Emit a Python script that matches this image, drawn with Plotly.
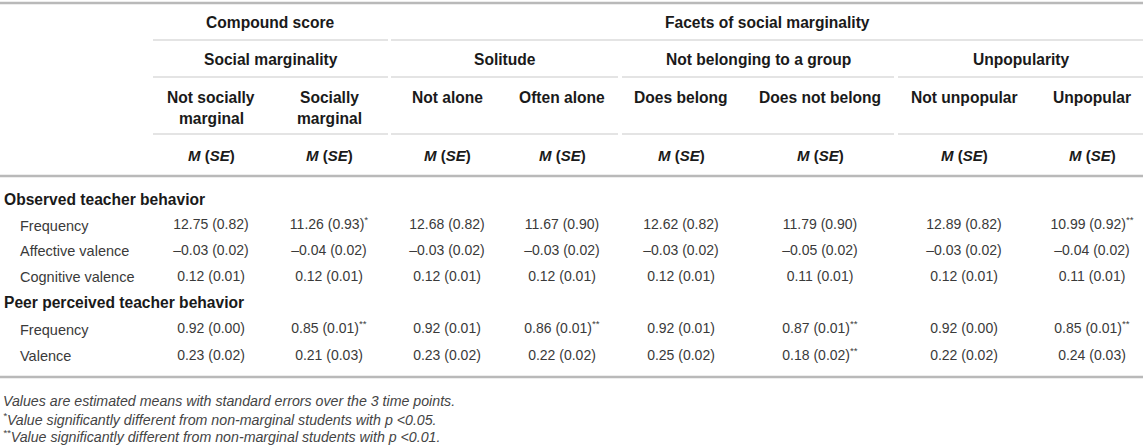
import plotly.graph_objects as go

# table content
GROUPS = ["Compound score", "Facets of social marginality"]
FACETS = ["Social marginality", "Solitude", "Not belonging to a group", "Unpopularity"]
COLUMNS = ["Not socially<br>marginal", "Socially<br>marginal", "Not alone", "Often alone",
           "Does belong", "Does not belong", "Not unpopular", "Unpopular"]
SECTIONS = ["Observed teacher behavior", "Peer perceived teacher behavior"]
ROW_LABELS = ["Frequency", "Affective valence", "Cognitive valence", "Frequency", "Valence"]

obs_freq_m = [12.75, 11.26, 12.68, 11.67, 12.62, 11.79, 12.89, 10.99]
obs_freq_se = [0.82, 0.93, 0.82, 0.90, 0.82, 0.90, 0.82, 0.92]
obs_freq_sig = ["", "*", "", "", "", "", "", "**"]

obs_aff_m = [-0.03, -0.04, -0.03, -0.03, -0.03, -0.05, -0.03, -0.04]
obs_aff_se = [0.02, 0.02, 0.02, 0.02, 0.02, 0.02, 0.02, 0.02]
obs_aff_sig = ["", "", "", "", "", "", "", ""]

obs_cog_m = [0.12, 0.12, 0.12, 0.12, 0.12, 0.11, 0.12, 0.11]
obs_cog_se = [0.01, 0.01, 0.01, 0.01, 0.01, 0.01, 0.01, 0.01]
obs_cog_sig = ["", "", "", "", "", "", "", ""]

peer_freq_m = [0.92, 0.85, 0.92, 0.86, 0.92, 0.87, 0.92, 0.85]
peer_freq_se = [0.00, 0.01, 0.01, 0.01, 0.01, 0.01, 0.00, 0.01]
peer_freq_sig = ["", "**", "", "**", "", "**", "", "**"]

peer_val_m = [0.23, 0.21, 0.23, 0.22, 0.25, 0.18, 0.22, 0.24]
peer_val_se = [0.02, 0.03, 0.02, 0.02, 0.02, 0.02, 0.02, 0.03]
peer_val_sig = ["", "", "", "", "", "**", "", ""]

NOTES = [
    "Values are estimated means with standard errors over the 3 time points.",
    "<sup>*</sup>Value significantly different from non-marginal students with <i>p</i> <0.05.",
    "<sup>**</sup>Value significantly different from non-marginal students with <i>p</i> <0.01.",
]

# layout (pixel grid of the table)
W, H = 1143, 445
COL_X = [211, 329, 447, 562, 681, 820, 964, 1092]
GROUP_SPAN = [(153, 388), (391, 1143)]
FACET_SPAN = [(153, 388), (391, 618), (622, 894), (898, 1143)]
Y_GROUP, Y_FACET, Y_COLHEAD, Y_MSE = 22.5, 59.5, 97, 155.5
Y_SECTION = [199, 302]
Y_ROWS = [225.5, 251, 277, 329.5, 356]
Y_NOTES = [401, 418.5, 436]

FONT = "Liberation Sans, Arial, sans-serif"
HEAD_COLOR = "#1a1a1a"
BODY_COLOR = "#3a3a3a"
THIN = "#c9c9c9"
THICK = "#b9b9b9"
HEAD_SIZE = 15.6


def fmt(m, se, sig):
    s = ("–%.2f" % abs(m)) if m < 0 else "%.2f" % m
    s += " (%.2f)" % se
    if sig:
        s += "<sup>" + sig + "</sup>"
    return s


rows = [
    (obs_freq_m, obs_freq_se, obs_freq_sig),
    (obs_aff_m, obs_aff_se, obs_aff_sig),
    (obs_cog_m, obs_cog_se, obs_cog_sig),
    (peer_freq_m, peer_freq_se, peer_freq_sig),
    (peer_val_m, peer_val_se, peer_val_sig),
]

fig = go.Figure()

# body values
for (m, se, sig), y in zip(rows, Y_ROWS):
    fig.add_trace(go.Scatter(
        x=COL_X, y=[y] * len(COL_X), mode="text",
        text=[fmt(a, b, c) for a, b, c in zip(m, se, sig)],
        textposition="middle center",
        textfont=dict(family=FONT, size=14, color=BODY_COLOR),
        hoverinfo="skip",
    ))

annotations = []


def add_text(x, y, text, size=HEAD_SIZE, color=HEAD_COLOR, anchor="center"):
    annotations.append(dict(
        x=x, y=y, xref="x", yref="y", text=text, showarrow=False,
        xanchor=anchor, yanchor="middle",
        font=dict(family=FONT, size=size, color=color),
    ))


for (a, b), g in zip(GROUP_SPAN, GROUPS):
    add_text((a + b) / 2, Y_GROUP, "<b>" + g + "</b>")
for (a, b), f in zip(FACET_SPAN, FACETS):
    add_text((a + b) / 2, Y_FACET, "<b>" + f + "</b>")
for x, c in zip(COL_X, COLUMNS):
    for i, part in enumerate(c.split("<br>")):
        add_text(x, Y_COLHEAD + i * 21.5, "<b>" + part + "</b>")
    add_text(x, Y_MSE, "<b><i>M</i> (<i>SE</i>)</b>", size=15)

for s, y in zip(SECTIONS, Y_SECTION):
    add_text(2, y, "<b>" + s + "</b>", anchor="left")
for lab, y in zip(ROW_LABELS, Y_ROWS):
    add_text(18, y, lab, size=14.5, color=BODY_COLOR, anchor="left")
for n, y in zip(NOTES, Y_NOTES):
    add_text(1, y, "<i>" + n + "</i>", size=14.2, color="#444444", anchor="left")

shapes = []


def hline(x0, x1, y, color, width):
    shapes.append(dict(type="line", xref="x", yref="y", x0=x0, x1=x1, y0=y, y1=y,
                       line=dict(color=color, width=width)))


hline(0, W, 3, THICK, 2.5)
for a, b in GROUP_SPAN:
    hline(a, b, 40, THIN, 1.2)
for a, b in FACET_SPAN:
    hline(a, b, 77, THIN, 1.2)
    hline(a, b, 134, THIN, 1.2)
hline(0, W, 176, THICK, 2.5)
hline(0, W, 377, THICK, 2.5)

fig.update_layout(
    width=W, height=H,
    margin=dict(l=0, r=0, t=0, b=0),
    paper_bgcolor="white", plot_bgcolor="white",
    showlegend=False,
    annotations=annotations, shapes=shapes,
)
fig.update_xaxes(range=[0, W], visible=False, showgrid=False, zeroline=False, fixedrange=True)
fig.update_yaxes(range=[H, 0], visible=False, showgrid=False, zeroline=False, fixedrange=True)

fig.write_html("out.html", config={"displayModeBar": False},
               post_script="document.body.style.margin='0';document.body.style.overflow='hidden';")
